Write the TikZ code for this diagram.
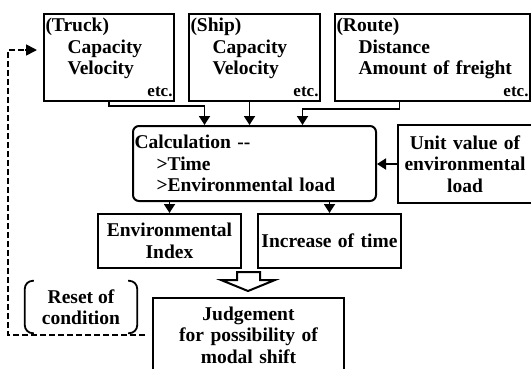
\documentclass[tikz,border=0pt]{standalone}
\usepackage{fontspec}
\setmainfont{Liberation Serif}
\usetikzlibrary{arrows.meta,calc}
\newcommand\etcnote{{\fontsize{17}{17}\selectfont etc.}}

\begin{document}
\begin{tikzpicture}[x=1pt,y=-1pt,
  every node/.style={font=\fontsize{19.5}{21.5}\selectfont\bfseries},
  box/.style={rectangle, draw, line width=2pt, inner xsep=1.5pt, inner ysep=0pt, anchor=north west, align=left},
  flow/.style={line width=1.8pt, -{Triangle[length=9pt,width=11pt]}},
  loop/.style={line width=1.7pt, dash pattern=on 6pt off 3pt}]
\useasboundingbox (0,0) rectangle (531,368);

\node[box, minimum width=130pt, minimum height=87pt, text width=127pt] (truck) at (43,13)
  {(Truck)\\\hspace*{22pt}Capacity\\\hspace*{22pt}Velocity\\\hfill\etcnote};
\node[box, minimum width=131pt, minimum height=87pt, text width=128pt] (ship) at (188,13)
  {(Ship)\\\hspace*{22pt}Capacity\\\hspace*{22pt}Velocity\\\hfill\etcnote};
\node[box, minimum width=195pt, minimum height=87pt, text width=192pt] (route) at (334,13)
  {(Route)\\\hspace*{22pt}Distance\\\hspace*{22pt}Amount of freight\\\hfill\etcnote};

\node[box, rounded corners=6pt, minimum width=243pt, minimum height=75pt, text width=240pt] (calc) at (132,125)
  {Calculation -{}-\\\hspace*{22pt}>Time\\\hspace*{22pt}>Environmental load};
\node[box, align=center, minimum width=134pt, minimum height=78pt, text width=131pt] (unit) at (397,124)
  {Unit value of\\environmental\\load};

\node[box, align=center, minimum width=143pt, minimum height=54pt, text width=140pt] (env) at (97,213) {Environmental\\Index};
\node[box, align=center, minimum width=143pt, minimum height=54pt, text width=140pt] (incr) at (257,213) {Increase of time};

\node[box, align=center, minimum width=191pt, minimum height=74pt, text width=188pt] (judge) at (152,297)
  {Judgement\\for possibility of\\modal shift};
\node[minimum width=112pt, minimum height=52pt, inner sep=0pt, align=center] (reset) at (81,307) {Reset of\\condition};

\draw[flow] (truck.south) -- ++(0,4) -| ([xshift=-50pt]calc.north);
\draw[flow] ([xshift=-5pt]ship.south) -- ([xshift=-5pt]ship.south |- calc.north);
\draw[flow] ([xshift=-33pt]route.south) -- ++(0,7) -| ([xshift=48pt]calc.north);
\draw[flow] (unit.west) -- (unit.west -| calc.east);
\draw[flow] (calc.south -| env.north) -- (env.north);
\draw[flow] (calc.south -| incr.north) -- (incr.north);

\draw[line width=2pt, fill=white] (237,272) -- (260,272) -- (260,280) -- (275,280) -- (248,291) -- (221,280) -- (237,280) -- cycle;

\draw[line width=1.8pt, rounded corners=8pt] ([xshift=9pt]reset.north west) -- (reset.north west) -- (reset.south west) -- ([xshift=9pt]reset.south west);
\draw[line width=1.8pt, rounded corners=8pt] ([xshift=-9pt]reset.north east) -- (reset.north east) -- (reset.south east) -- ([xshift=-9pt]reset.south east);

\draw[loop] ([xshift=-7pt]judge.west) -- ++(-137,0) |- ([xshift=-16pt,yshift=7.5pt]truck.west);
\draw[line width=1.7pt, -{Triangle[length=11pt,width=11pt]}] ([xshift=-18pt,yshift=7.5pt]truck.west) -- ([xshift=-6pt,yshift=7.5pt]truck.west);

\end{tikzpicture}
\end{document}
